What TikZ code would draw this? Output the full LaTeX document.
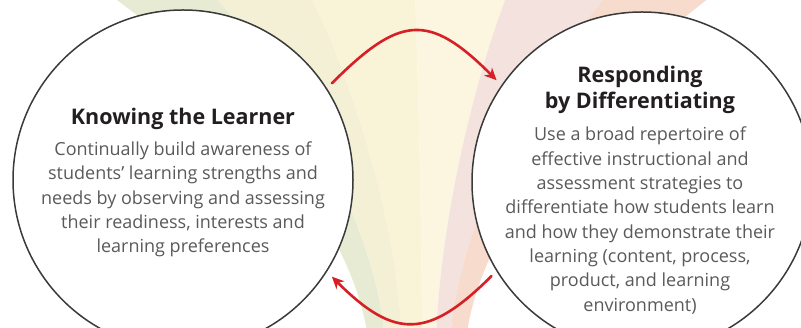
\documentclass[tikz,border=0pt]{standalone}
\usepackage{fontspec}
\setmainfont{Open Sans}
\usetikzlibrary{arrows.meta}
\definecolor{fanA}{HTML}{E8EBD4}
\definecolor{fanB}{HTML}{F3F0D5}
\definecolor{fanC}{HTML}{F9F3D8}
\definecolor{fanD}{HTML}{FCF6E1}
\definecolor{fanE}{HTML}{F4E2DE}
\definecolor{fanF}{HTML}{F7DBCC}
\definecolor{ringcol}{HTML}{3A3A3A}
\definecolor{titlecol}{HTML}{231F20}
\definecolor{bodycol}{HTML}{595A5C}
\definecolor{arrowred}{HTML}{D71F26}
\tikzset{
  ring/.style={circle, draw=ringcol, line width=1.5pt, fill=white, minimum size=340pt, inner sep=0pt, outer sep=7.5pt},
  titletext/.style={align=center, text=titlecol, font=\fontsize{21.5}{26}\selectfont\bfseries, anchor=base, inner sep=0pt},
  bodytext/.style={align=center, text=bodycol, font=\fontsize{18}{24.3}\selectfont, anchor=base, inner sep=0pt},
  cyclearrow/.style={draw=arrowred, line width=2.6pt, line cap=round, -{Stealth[length=12pt,width=11pt,inset=3.5pt]}}
}
\begin{document}
\begin{tikzpicture}[x=1pt,y=1pt]
\useasboundingbox (0,0) rectangle (801,328);
\begin{scope}
\clip (0,0) rectangle (801,328);
\foreach \bl/\tl/\br/\tr/\col in {368/110/385/213/fanA, 385/213/402/310/fanB, 402/310/422/415/fanC, 422/415/436/507/fanD, 436/507/450/607/fanE, 450/607/466/713/fanF}{
  \fill[\col] (\bl,-12) .. controls ({\bl+0.05*(\tl-\bl)},100) and ({\bl+0.5*(\tl-\bl)},240) .. (\tl,333)
     -- (\tr,333) .. controls ({\br+0.5*(\tr-\br)},240) and ({\br+0.05*(\tr-\br)},100) .. (\br,-12) -- cycle;
}
\end{scope}
\node[ring] (L) at (183,148) {};
\node[ring] (R) at (642,146) {};
\node[titletext] (Lt) at (183,203.5) {Knowing the Learner};
\node[bodytext] (Lb) at (183,75.3) {Continually build awareness of\\students’ learning strengths and\\needs by observing and assessing\\their readiness, interests and\\learning preferences};
\node[titletext] (Rt) at (640,219) {Responding\\by Differentiating};
\node[bodytext] (Rb) at (640,16.9) {Use a broad repertoire of\\effective instructional and\\assessment strategies to\\differentiate how students learn\\and how they demonstrate their\\learning (content, process,\\product, and learning\\environment)};
\draw[cyclearrow] (L.33.5) .. controls +(68,68) and +(-68,68) .. (R.145.8);
\draw[cyclearrow] (R.212.8) .. controls +(-63,-63) and +(63,-63) .. (L.-33.5);
\end{tikzpicture}
\end{document}
